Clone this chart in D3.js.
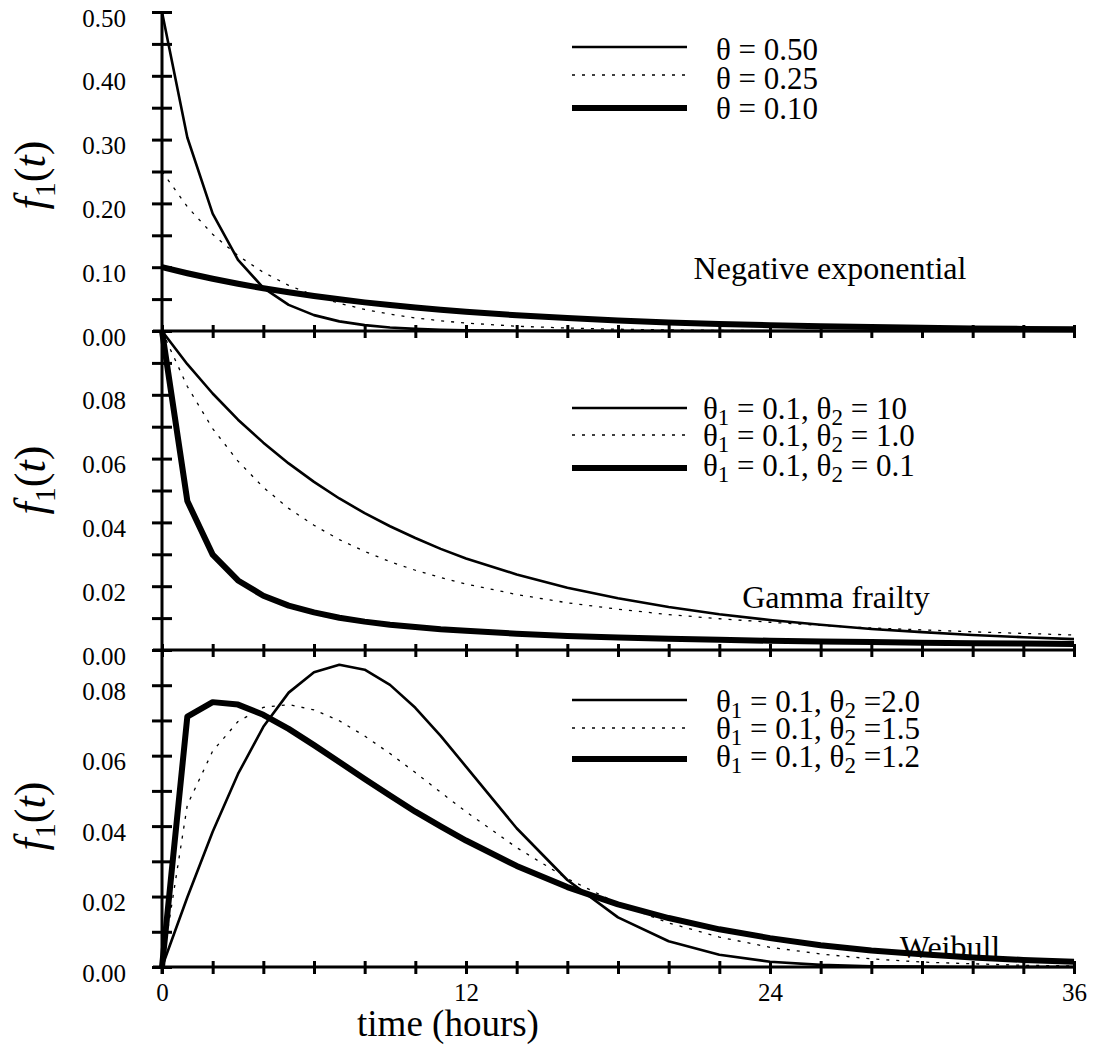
<!DOCTYPE html>
<head>
  <meta charset="utf-8">
  <title>Density functions f1(t)</title>
  <script src="https://d3js.org/d3.v7.min.js"></script>
  <style>
    body { margin: 0; background: #fff; }
    svg, text { font-family: "Liberation Serif", "Times New Roman", serif; }
    text { fill: #000; }
    .axis-line { stroke: #000; stroke-width: 3px; }
    .tick-lab { font-size: 25px; }
    .legend-text { font-size: 31px; }
    .panel-title { font-size: 32px; }
    .x-title { font-size: 37px; }
    .y-title { font-size: 44px; }
    .curve { fill: none; stroke: #000; stroke-linejoin: round; }
  </style>
</head>
<body>
<script>
// time points (hours)
var hours = [0,1,2,3,4,5,6,7,8,9,10,11,12,14,16,18,20,22,24,26,28,30,32,34,36];

// Negative exponential panel
var negExp050 = [0.5,0.3033,0.1839,0.1116,0.0677,0.0410,0.0249,0.0151,0.0092,0.0056,0.0034,0.0020,0.0012,0.0005,0.0002,0.0001,0,0,0,0,0,0,0,0,0];
var negExp025 = [0.25,0.1947,0.1516,0.1181,0.0920,0.0716,0.0558,0.0434,0.0338,0.0264,0.0205,0.0160,0.0124,0.0075,0.0046,0.0028,0.0017,0.0010,0.0006,0.0004,0.0002,0.0001,0.0001,0.0001,0];
var negExp010 = [0.1,0.0905,0.0819,0.0741,0.0670,0.0607,0.0549,0.0497,0.0449,0.0407,0.0368,0.0333,0.0301,0.0247,0.0202,0.0165,0.0135,0.0111,0.0091,0.0074,0.0061,0.0050,0.0041,0.0033,0.0027];

// Gamma frailty panel
var gammaA = [0.1,0.0896,0.0804,0.0722,0.0650,0.0585,0.0527,0.0475,0.0429,0.0388,0.0351,0.0317,0.0287,0.0237,0.0195,0.0162,0.0135,0.0112,0.0094,0.0079,0.0066,0.0056,0.0047,0.0040,0.0034];
var gammaB = [0.1,0.0826,0.0694,0.0592,0.0510,0.0444,0.0391,0.0346,0.0309,0.0277,0.0250,0.0227,0.0207,0.0174,0.0148,0.0128,0.0111,0.0098,0.0087,0.0077,0.0069,0.0063,0.0057,0.0052,0.0047];
var gammaC = [0.1,0.0467,0.0299,0.0218,0.0170,0.0139,0.0118,0.0101,0.0089,0.0079,0.0072,0.0065,0.0060,0.0051,0.0044,0.0039,0.0035,0.0032,0.0029,0.0027,0.0025,0.0023,0.0021,0.0020,0.0019];

// Weibull panel
var weibA = [0,0.0198,0.0384,0.0548,0.0682,0.0779,0.0837,0.0858,0.0844,0.0801,0.0736,0.0656,0.0569,0.0394,0.0247,0.0141,0.0073,0.0035,0.0015,0.0006,0.0002,0.0001,0,0,0];
var weibB = [0,0.0460,0.0613,0.0697,0.0737,0.0745,0.0730,0.0699,0.0656,0.0606,0.0552,0.0496,0.0441,0.0339,0.0251,0.0180,0.0125,0.0085,0.0056,0.0037,0.0023,0.0014,0.0009,0.0005,0.0003];
var weibC = [0,0.0711,0.0752,0.0745,0.0716,0.0676,0.0630,0.0582,0.0534,0.0487,0.0441,0.0399,0.0359,0.0287,0.0227,0.0178,0.0139,0.0107,0.0082,0.0062,0.0047,0.0036,0.0027,0.0020,0.0015];

// legend labels and titles
var negExpLabels = ["θ = 0.50", "θ = 0.25", "θ = 0.10"];
var gammaLabels = ["θ1 = 0.1, θ2 = 10", "θ1 = 0.1, θ2 = 1.0", "θ1 = 0.1, θ2 = 0.1"];
var weibLabels = ["θ1 = 0.1, θ2 =2.0", "θ1 = 0.1, θ2 =1.5", "θ1 = 0.1, θ2 =1.2"];
var panelTitles = ["Negative exponential", "Gamma frailty", "Weibull"];

// axis ticks
var xTicks = [0,2,4,6,8,10,12,14,16,18,20,22,24,26,28,30,32,34,36];
var xLabels = [0,12,24,36];
var topTicks = [0,0.05,0.10,0.15,0.20,0.25,0.30,0.35,0.40,0.45,0.50];
var topLabels = [0,0.10,0.20,0.30,0.40,0.50];
var midTicks = [0,0.01,0.02,0.03,0.04,0.05,0.06,0.07,0.08,0.09];
var midLabels = [0,0.02,0.04,0.06,0.08];
var botTicks = [0,0.01,0.02,0.03,0.04,0.05,0.06,0.07,0.08];
var botLabels = [0,0.02,0.04,0.06,0.08];

var width = 1095, height = 1046;

var svg = d3.select("body").append("svg")
    .attr("width", width)
    .attr("height", height);

var x = d3.scaleLinear().domain([0, 36]).range([162, 1074]);

var styles = [
  {w: 2.6, dash: null},
  {w: 1.3, dash: "3,7"},
  {w: 6, dash: null}
];

var panels = [
  {y: d3.scaleLinear().domain([0, 0.5]).range([331, 12]),
   series: [negExp050, negExp025, negExp010], labels: negExpLabels,
   ticks: topTicks, tickLabels: topLabels, title: panelTitles[0],
   titlePos: [830, 279], legendLineY: [47, 75, 108], legendTextX: 716, legendBase: [60, 89, 119],
   yTitle: 175},
  {y: d3.scaleLinear().domain([0, 0.1]).range([650, 331]),
   series: [gammaA, gammaB, gammaC], labels: gammaLabels,
   ticks: midTicks, tickLabels: midLabels, title: panelTitles[1],
   titlePos: [836, 608], legendLineY: [408, 435, 468], legendTextX: 703, legendBase: [419, 446, 476],
   yTitle: 480},
  {y: d3.scaleLinear().domain([0, 0.09]).range([967, 650]),
   series: [weibA, weibB, weibC], labels: weibLabels,
   ticks: botTicks, tickLabels: botLabels, title: panelTitles[2],
   titlePos: [950, 958], legendLineY: [700, 728, 759], legendTextX: 716, legendBase: [712, 739, 767],
   yTitle: 816}
];

// subscripted theta labels
function addLabel(sel, str) {
  var parts = str.split(/(θ[12])/);
  var shift = 0;
  parts.forEach(function(p) {
    if (p === "") return;
    if (/^θ[12]$/.test(p)) {
      sel.append("tspan").attr("dy", -shift).text("θ");
      sel.append("tspan").attr("dy", 6).style("font-size", "23px").text(p.charAt(1));
      shift = 6;
    } else {
      sel.append("tspan").attr("dy", -shift).text(p);
      shift = 0;
    }
  });
}

panels.forEach(function(p, pi) {
  var g = svg.append("g");

  // curves
  var line = d3.line()
      .x(function(d, i) { return x(hours[i]); })
      .y(function(d) { return p.y(d); });

  p.series.forEach(function(s, si) {
    g.append("path")
      .attr("class", "curve")
      .attr("d", line(s))
      .attr("stroke-width", styles[si].w)
      .attr("stroke-dasharray", styles[si].dash);
  });

  // y axis ticks
  var yAxis = d3.axisLeft(p.y)
      .tickValues(p.ticks)
      .tickSize(10)
      .tickFormat(function(d) {
        return p.tickLabels.some(function(v) { return Math.abs(v - d) < 1e-9; }) ? d3.format(".2f")(d) : "";
      });

  var ya = g.append("g")
      .attr("transform", "translate(" + x(0) + ",0)")
      .call(yAxis)
      .attr("font-family", null).attr("font-size", null);
  ya.select(".domain").remove();
  ya.selectAll(".tick line")
      .attr("x1", 10).attr("x2", -10)
      .attr("stroke", "#000").attr("stroke-width", 3);
  ya.selectAll(".tick text")
      .attr("class", "tick-lab")
      .attr("x", -36)
      .attr("dy", "0.56em");

  // horizontal baseline with ticks
  var xAxis = d3.axisBottom(x)
      .tickValues(xTicks)
      .tickSize(7)
      .tickFormat(function(d) {
        return (pi === 2 && xLabels.indexOf(d) >= 0) ? d : "";
      });
  var xa = g.append("g")
      .attr("transform", "translate(0," + p.y(0) + ")")
      .call(xAxis)
      .attr("font-family", null).attr("font-size", null);
  xa.select(".domain").remove();
  xa.selectAll(".tick line")
      .attr("y1", -6)
      .attr("stroke", "#000").attr("stroke-width", 3);
  xa.selectAll(".tick text")
      .attr("class", "tick-lab")
      .attr("y", 16);

  g.append("line")
      .attr("class", "axis-line")
      .attr("x1", 153).attr("x2", x(36))
      .attr("y1", p.y(0)).attr("y2", p.y(0));

  // legend
  p.labels.forEach(function(lab, li) {
    g.append("line")
      .attr("x1", 572).attr("x2", 687)
      .attr("y1", p.legendLineY[li]).attr("y2", p.legendLineY[li])
      .attr("stroke", "#000")
      .attr("stroke-width", styles[li].w)
      .attr("stroke-dasharray", styles[li].dash);
    var t = g.append("text")
      .attr("class", "legend-text")
      .attr("x", p.legendTextX)
      .attr("y", p.legendBase[li]);
    addLabel(t, lab);
  });

  // panel title
  g.append("text")
    .attr("class", "panel-title")
    .attr("text-anchor", "middle")
    .attr("x", p.titlePos[0])
    .attr("y", p.titlePos[1])
    .text(p.title);

  // y title f1(t)
  var yt = g.append("text")
    .attr("class", "y-title")
    .attr("text-anchor", "middle")
    .attr("transform", "translate(45," + p.yTitle + ") rotate(-90)");
  yt.append("tspan").style("font-style", "italic").text("f");
  yt.append("tspan").attr("dy", 10).style("font-size", "30px").text("1");
  yt.append("tspan").attr("dy", -10).text("(");
  yt.append("tspan").style("font-style", "italic").text("t");
  yt.append("tspan").text(")");
});

// vertical axis line
svg.append("line")
    .attr("class", "axis-line")
    .attr("x1", x(0)).attr("x2", x(0))
    .attr("y1", panels[0].y(0.5)).attr("y2", panels[2].y(0) + 7);

svg.append("text")
    .attr("class", "x-title")
    .attr("x", 448)
    .attr("y", 1036)
    .attr("text-anchor", "middle")
    .text("time (hours)");
</script>
</body>
